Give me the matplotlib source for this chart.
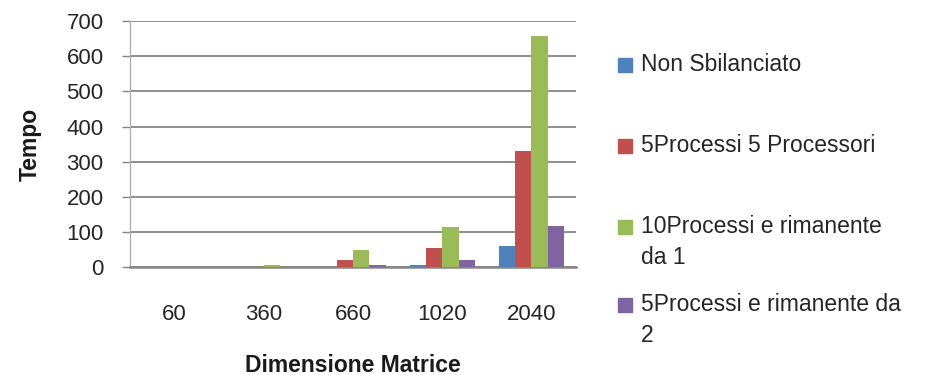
import numpy as np
import matplotlib
matplotlib.use('Agg')
from matplotlib import pyplot as plt
from matplotlib.patches import Rectangle

plt.rcParams['font.family'] = ['Liberation Sans', 'DejaVu Sans']

categories = ["60", "360", "660", "1020", "2040"]
series_names = ["Non Sbilanciato", "5Processi 5 Processori",
                "10Processi e rimanente\nda 1", "5Processi e rimanente da\n2"]
non_sbilanciato = [0.1, 0.3, 1, 7, 61]
cinque_processori = [0.2, 0.8, 21, 55, 330]
dieci_processi = [0.3, 6, 50, 115, 658]
cinque_processi_rim = [0.1, 0.5, 7, 21, 118]
colors = ["#4F81BD", "#C0504D", "#9BBB59", "#8064A2"]

data = [non_sbilanciato, cinque_processori, dieci_processi, cinque_processi_rim]
grid_color = "#868686"

fig = plt.figure(figsize=(9.29, 3.75), dpi=100)
ax = fig.add_axes([0.1399, 0.2867, 0.4801, 0.6573])

x = np.arange(len(categories))
width = 0.183
for index, values in enumerate(data):
    ax.bar(x + (index - 1.5) * width, values, width, color=colors[index], zorder=3)

ax.set_xlim(-0.5, len(categories) - 0.5)
ax.set_ylim(0, 700)
ax.set_yticks(np.arange(0, 701, 100))
ax.yaxis.grid(True, color=grid_color, linewidth=1.3, zorder=0)
ax.set_axisbelow(True)

for side in ("top", "right"):
    ax.spines[side].set_visible(False)
ax.spines["left"].set_color("#B0B0B0")
ax.spines["left"].set_linewidth(1.0)
ax.spines["bottom"].set_color(grid_color)
ax.spines["bottom"].set_linewidth(1.8)

ax.set_xticks(x)
ax.set_xticklabels(categories)
ax.tick_params(axis='x', length=0, pad=26, labelsize=16, labelcolor="#262626")
ax.tick_params(axis='y', length=6, width=1.0, color=grid_color, pad=13,
               labelsize=16, labelcolor="#262626")

ax.set_xlabel("Dimensione Matrice", fontsize=16.5, fontweight="bold", color="#1a1a1a")
ax.xaxis.set_label_coords(0.5, -0.35)
ax.set_ylabel("Tempo", fontsize=16.5, fontweight="bold", color="#1a1a1a")
ax.yaxis.set_label_coords(-0.198, 0.5)

# legend drawn by hand so the square sits on the first text line
legend_rows = [65, 146, 227, 305]
for index, name in enumerate(series_names):
    y_px = legend_rows[index]
    fig.add_artist(Rectangle((618 / 929, 1 - (y_px + 7) / 375), 14 / 929, 14 / 375,
                             transform=fig.transFigure, color=colors[index]))
    fig.text(641 / 929, 1 - (y_px - 12) / 375, name, fontsize=16.5, color="#262626",
             va="top", ha="left", linespacing=1.42)

fig.savefig("out.png", dpi=100)
